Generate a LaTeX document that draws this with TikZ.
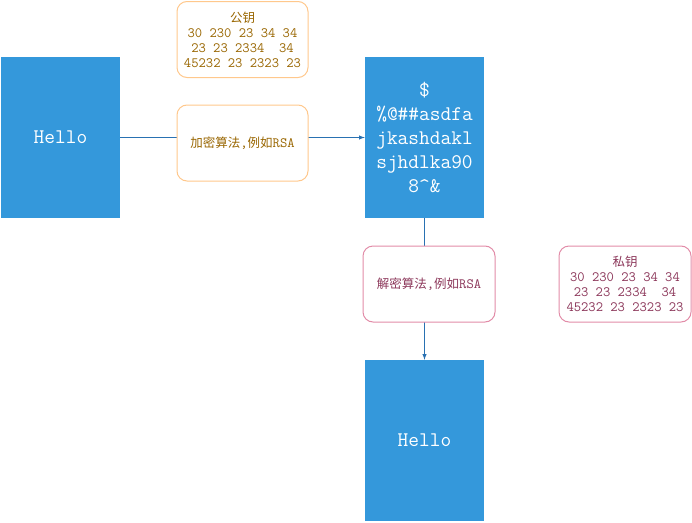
\documentclass[tikz,border=0pt]{standalone}
\usepackage{fontspec}
\newfontfamily\cjk{Noto Sans CJK SC}
\newcommand\zh[1]{{\cjk\fontsize{12.5}{15}\selectfont #1}}
\definecolor{boxblue}{RGB}{52,152,219}
\definecolor{linkblue}{RGB}{41,113,178}
\definecolor{publine}{RGB}{255,200,140}
\definecolor{pubtext}{RGB}{153,102,0}
\definecolor{privline}{RGB}{226,140,168}
\definecolor{privtext}{RGB}{140,55,90}
\tikzstyle{block}=[rectangle,fill=boxblue,text=white,minimum width=119pt,minimum height=161pt,inner sep=0pt,align=center,font=\fontsize{20.8}{24}\ttfamily]
\tikzstyle{pubnote}=[rectangle,rounded corners=10pt,draw=publine,line width=1pt,fill=white,text=pubtext,minimum width=131pt,minimum height=76pt,inner sep=0pt,align=center,font=\fontsize{14.2}{15}\ttfamily]
\tikzstyle{privnote}=[rectangle,rounded corners=10pt,draw=privline,line width=1pt,fill=white,text=privtext,minimum width=132pt,minimum height=76pt,inner sep=0pt,align=center,font=\fontsize{14.2}{15}\ttfamily]

\begin{document}
\begin{tikzpicture}[x=1pt,y=-1pt,>=latex]
\useasboundingbox (0,0) rectangle (692,522);
\node[block] at (60.5, 137.5) (plain) {Hello};
\node[block] at (424.5, 137.5) (cipher) {\$\\\%@\#\#asdfa\\jkashdakl\\sjhdlka90\\8\textasciicircum\&};
\node[block] at (424.5, 440.5) (result) {Hello};
\draw[->, linkblue, line width=1pt] (plain) -- (cipher);
\draw[->, linkblue, line width=1pt] (cipher) -- (result);
\node[pubnote] at (242.5, 39.5) (pubkey) {\zh{公钥}\\30 230 23 34 34\\23 23 2334\ \ 34\\45232 23 2323 23};
\node[pubnote] at (242.5, 143) (enc) {\zh{加密算法},\zh{例如}RSA};
\node[privnote] at (429, 284) (dec) {\zh{解密算法},\zh{例如}RSA};
\node[privnote] at (625, 284) (privkey) {\zh{私钥}\\30 230 23 34 34\\23 23 2334\ \ 34\\45232 23 2323 23};
\end{tikzpicture}
\end{document}
